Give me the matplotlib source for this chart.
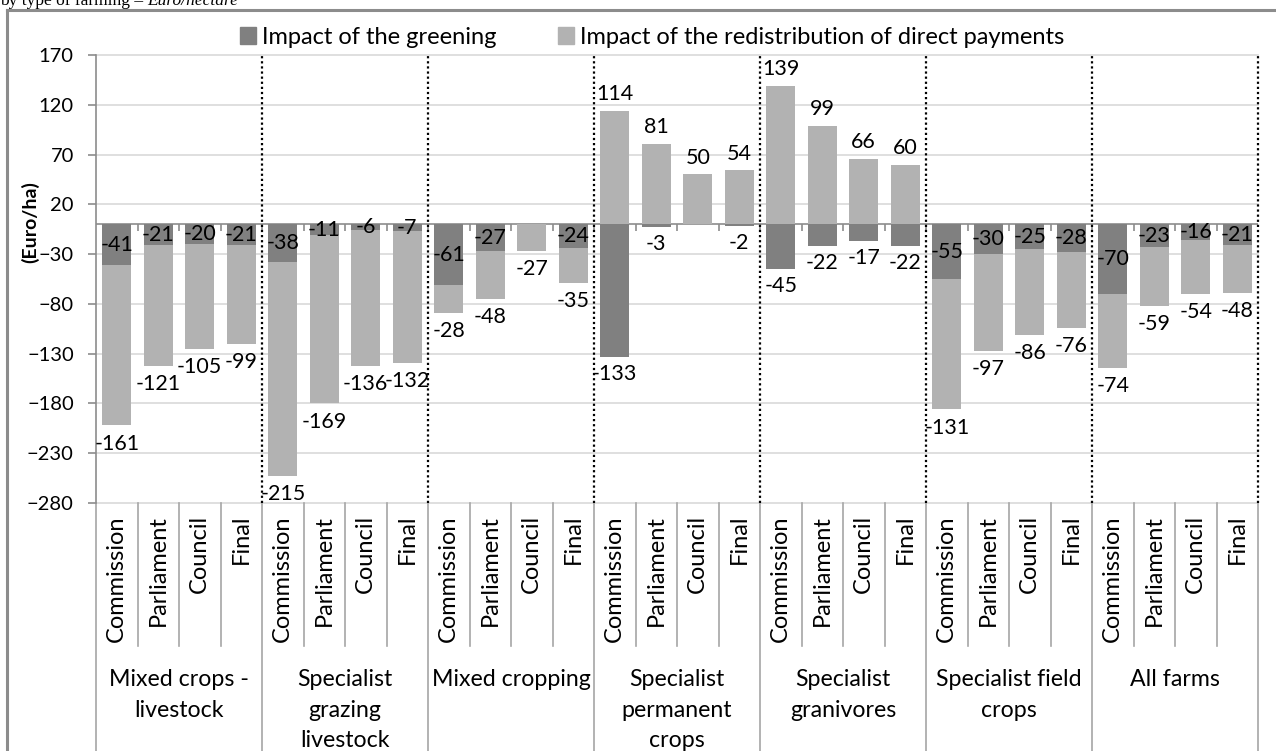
import matplotlib
matplotlib.use("Agg")
import matplotlib.pyplot as plt
from matplotlib.patches import Patch
from matplotlib.lines import Line2D
import numpy as np

plt.rcParams['font.family'] = ['Lato', 'DejaVu Sans']

groups = ["Mixed crops -\nlivestock", "Specialist\ngrazing\nlivestock", "Mixed cropping",
          "Specialist\npermanent\ncrops", "Specialist\ngranivores", "Specialist field\ncrops", "All farms"]
scenarios = ["Commission", "Parliament", "Council", "Final"]
greening = [-41, -21, -20, -21,
            -38, -11, -6, -7,
            -61, -27, 0, -24,
            -133, -3, 0, -2,
            -45, -22, -17, -22,
            -55, -30, -25, -28,
            -70, -23, -16, -21]
redistribution = [-161, -121, -105, -99,
                  -215, -169, -136, -132,
                  -28, -48, -27, -35,
                  114, 81, 50, 54,
                  139, 99, 66, 60,
                  -131, -97, -86, -76,
                  -74, -59, -54, -48]
yticks = list(range(-280, 171, 50))
legend_labels = ["Impact of the greening", "Impact of the redistribution of direct payments"]

c_green = '#808080'
c_redis = '#b2b2b2'
c_grid = '#d9d9d9'
c_axis = '#8c8c8c'

W, H = 1276, 751
fig = plt.figure(figsize=(W/100, H/100), dpi=100)
ax = fig.add_axes([96/W, 1-503/H, (1258-96)/W, 448/H])

g = np.array(greening, dtype=float)
r = np.array(redistribution, dtype=float)
n = len(g)
x = np.arange(n) + 0.5
bw = 0.7

ax.bar(x, g, width=bw, color=c_green, zorder=3)
bottom_r = np.where(r < 0, g, 0)
ax.bar(x, r, width=bw, bottom=bottom_r, color=c_redis, zorder=3)

ax.set_xlim(0, n)
ax.set_ylim(min(yticks), max(yticks))
ax.set_yticks(yticks)
ax.set_xticks([])
for yv in yticks:
    ax.axhline(yv, color=c_grid, lw=1.2, zorder=1, clip_on=False)
for s in ['top', 'right', 'bottom']:
    ax.spines[s].set_visible(False)
ax.spines['left'].set_color(c_axis)
ax.spines['left'].set_linewidth(1.2)
ax.tick_params(axis='y', direction='out', length=6, width=1.2, color=c_axis,
               labelsize=14.5, pad=10, labelcolor='black')

# zero axis with ticks between bars
ax.axhline(0, color=c_axis, lw=1.2, zorder=2)
ax.vlines(np.arange(1, n), -7, 0, colors=c_axis, lw=1.2, zorder=2)

# dotted group separators
ax.vlines(np.arange(4, n + 1, 4), min(yticks), max(yticks), colors='black',
          linestyles=(0, (1, 1.3)), lw=1.6, zorder=4, clip_on=False)

# value labels
fs_val = 15.5
for i in range(n):
    gi, ri = g[i], r[i]
    if gi != 0:
        if ri < 0:
            ax.text(x[i], gi/2, f"{int(gi)}", ha='center', va='center', fontsize=fs_val, zorder=5)
        else:
            ax.annotate(f"{int(gi)}", (x[i], gi), xytext=(0, -5), textcoords='offset points',
                        ha='center', va='top', fontsize=fs_val, zorder=5)
    if ri < 0:
        ax.annotate(f"{int(ri)}", (x[i], gi + ri), xytext=(0, -6), textcoords='offset points',
                    ha='center', va='top', fontsize=fs_val, zorder=5)
    else:
        ax.annotate(f"{int(ri)}", (x[i], ri), xytext=(0, 5), textcoords='offset points',
                    ha='center', va='bottom', fontsize=fs_val, zorder=5)

# multi-level category axis
trans = ax.get_xaxis_transform()
ph = 448.0
c_sep = '#a6a6a6'
for b in range(1, n):
    if b % 4 != 0:
        ax.plot([b, b], [0, -(646-503)/ph], color=c_sep, lw=1.2, transform=trans, clip_on=False)
for b in range(0, n + 1, 4):
    ax.plot([b, b], [0, -(760-503)/ph], color=c_sep, lw=1.2, transform=trans, clip_on=False)
for i in range(n):
    ax.text(x[i], -(515-503)/ph, scenarios[i % 4], rotation=90, ha='center', va='top',
            fontsize=17, transform=trans)
for k, name in enumerate(groups):
    ax.text(4*k + 2, -(669-503)/ph, name, ha='center', va='top', fontsize=16.7,
            linespacing=1.57, transform=trans)

# y label
fig.text(30/W, 1-222/H, "(Euro/ha)", rotation=90, ha='center', va='center',
         fontsize=14, fontweight='bold')

# legend
handles = [Patch(color=c_green), Patch(color=c_redis)]
fig.legend(handles, legend_labels, loc='center', bbox_to_anchor=(652/W, 1-37/H),
           ncol=2, frameon=False, fontsize=17, handlelength=0.7, handleheight=0.7,
           handletextpad=0.25, columnspacing=2.6, borderpad=0)

# outer frame
fig.add_artist(Line2D([7/W, 7/W], [0, 1-10/H], color='#8c8c8c', lw=2.2, transform=fig.transFigure))
fig.add_artist(Line2D([7/W, 1], [1-10/H, 1-10/H], color='#8c8c8c', lw=2.2, transform=fig.transFigure))

# cut-off title at top
t1 = fig.text(0, 1-5/H, "by type of farming – ", ha='left', va='baseline', fontsize=12.5,
              family='Liberation Serif')
fig.canvas.draw()
bb = t1.get_window_extent()
fig.text(bb.x1/W, 1-5/H, "Euro/hectare", ha='left', va='baseline', fontsize=12.5,
         family='Liberation Serif', style='italic')

fig.savefig("out.png", dpi=100)
